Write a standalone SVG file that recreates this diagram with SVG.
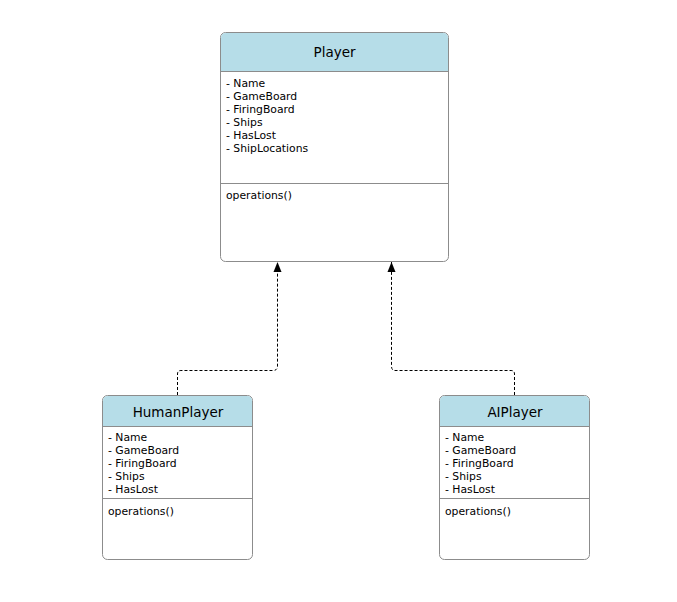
<svg xmlns="http://www.w3.org/2000/svg" width="677" height="602" viewBox="0 0 677 602">
<defs>
<style>
.box{fill:#fff;stroke:#8c8c8c;stroke-width:1}
.hdr{fill:#b6dde8}
.sep{stroke:#8c8c8c;stroke-width:1}
.title{font-family:"DejaVu Sans",Verdana,sans-serif;font-size:13.5px;fill:#000;text-anchor:middle}
.attr{font-family:"DejaVu Sans",Verdana,sans-serif;font-size:10.8px;fill:#000}
.conn{fill:none;stroke:#000;stroke-width:1;stroke-dasharray:3,2}
</style>
<marker id="arr" markerWidth="10" markerHeight="12" refX="10" refY="5" orient="auto" markerUnits="userSpaceOnUse">
<path d="M0,1 L10,5 L0,9 Z" fill="#000"/>
</marker>
</defs>
<rect width="677" height="602" fill="#fff"/>
<g id="connectors">
<path class="conn" d="M177.5,395 V374 Q177.5,370.5 181,370.5 H273 Q277.5,370.5 277.5,366 V262" marker-end="url(#arr)"/>
<path class="conn" d="M514.5,395 V374 Q514.5,370.5 511,370.5 H395 Q391.5,370.5 391.5,366 V262" marker-end="url(#arr)"/>
</g>
<g id="Player">
<rect class="box" x="220.5" y="32.5" width="228" height="229" rx="5"/>
<path class="hdr" d="M221,71 V38 Q221,33 226,33 H443 Q448,33 448,38 V71 Z"/>
<line class="sep" x1="220.5" y1="71.5" x2="448.5" y2="71.5"/>
<line class="sep" x1="220.5" y1="183.5" x2="448.5" y2="183.5"/>
<text class="title" x="334.5" y="57">Player</text>
<text class="attr" x="226" y="87">- Name</text>
<text class="attr" x="226" y="100">- GameBoard</text>
<text class="attr" x="226" y="113">- FiringBoard</text>
<text class="attr" x="226" y="126">- Ships</text>
<text class="attr" x="226" y="139">- HasLost</text>
<text class="attr" x="226" y="152">- ShipLocations</text>
<text class="attr" x="226" y="199">operations()</text>
</g>
<g id="HumanPlayer">
<rect class="box" x="102.5" y="395.5" width="150" height="164" rx="5"/>
<path class="hdr" d="M103,426 V401 Q103,396 108,396 H247 Q252,396 252,401 V426 Z"/>
<line class="sep" x1="102.5" y1="426.5" x2="252.5" y2="426.5"/>
<line class="sep" x1="102.5" y1="498.5" x2="252.5" y2="498.5"/>
<text class="title" x="178" y="417">HumanPlayer</text>
<text class="attr" x="108" y="441">- Name</text>
<text class="attr" x="108" y="454">- GameBoard</text>
<text class="attr" x="108" y="467">- FiringBoard</text>
<text class="attr" x="108" y="480">- Ships</text>
<text class="attr" x="108" y="493">- HasLost</text>
<text class="attr" x="108" y="515">operations()</text>
</g>
<g id="AIPlayer">
<rect class="box" x="439.5" y="395.5" width="150" height="164" rx="5"/>
<path class="hdr" d="M440,426 V401 Q440,396 445,396 H584 Q589,396 589,401 V426 Z"/>
<line class="sep" x1="439.5" y1="426.5" x2="589.5" y2="426.5"/>
<line class="sep" x1="439.5" y1="498.5" x2="589.5" y2="498.5"/>
<text class="title" x="515" y="417">AIPlayer</text>
<text class="attr" x="445" y="441">- Name</text>
<text class="attr" x="445" y="454">- GameBoard</text>
<text class="attr" x="445" y="467">- FiringBoard</text>
<text class="attr" x="445" y="480">- Ships</text>
<text class="attr" x="445" y="493">- HasLost</text>
<text class="attr" x="445" y="515">operations()</text>
</g>
</svg>
